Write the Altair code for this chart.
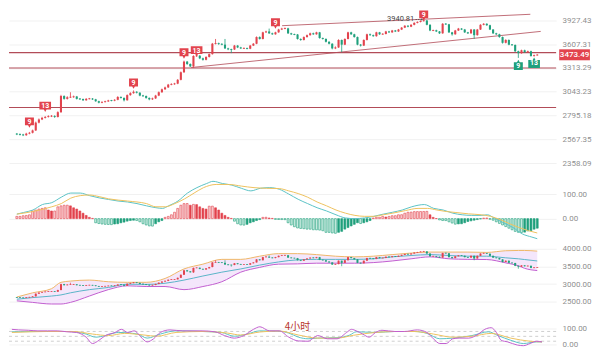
import altair as alt
import pandas as pd
import numpy as np

# ---------------- data ----------------
closes = [2614, 2611, 2605, 2620, 2628, 2650, 2725, 2756, 2772, 2781,
          2788, 2790, 2781, 2829, 2997, 2967, 2984, 2986, 2992, 2967,
          2965, 2952, 2967, 2969, 2962, 2942, 2927, 2934, 2940, 2950,
          2948, 2957, 2987, 2977, 2952, 3007, 3028, 3043, 3033, 3002,
          2997, 2977, 2962, 2972, 3002, 3038, 3070, 3091, 3122, 3128,
          3133, 3176, 3263, 3390, 3361, 3333, 3459, 3462, 3430, 3412,
          3447, 3482, 3614, 3618, 3612, 3602, 3554, 3542, 3540, 3590,
          3566, 3554, 3556, 3550, 3590, 3614, 3701, 3676, 3764, 3776,
          3751, 3738, 3764, 3802, 3815, 3818, 3751, 3738, 3735, 3676,
          3663, 3701, 3726, 3751, 3738, 3764, 3688, 3676, 3639, 3614,
          3554, 3566, 3663, 3602, 3676, 3764, 3738, 3701, 3602, 3590,
          3663, 3738, 3726, 3713, 3764, 3738, 3742, 3776, 3764, 3789,
          3776, 3802, 3828, 3854, 3841, 3867, 3894, 3907, 3921, 3927,
          3867, 3789, 3792, 3776, 3751, 3881, 3874, 3764, 3738, 3789,
          3815, 3802, 3764, 3751, 3802, 3726, 3802, 3867, 3881, 3861,
          3802, 3751, 3738, 3701, 3626, 3663, 3602, 3598, 3518, 3494,
          3530, 3506, 3518, 3459, 3468, 3473.49]
highs = [2626, 2622, 2618, 2628, 2636, 2658, 2735, 2766, 2782, 2790,
         2798, 2800, 2798, 2838, 3010, 3005, 2995, 3038, 3002, 2998,
         2975, 2970, 2975, 2977, 2976, 2967, 2947, 2941, 2947, 2957,
         2956, 2964, 2996, 2994, 2982, 3015, 3038, 3058, 3050, 3038,
         3010, 3003, 2982, 2980, 3010, 3046, 3078, 3100, 3130, 3137,
         3142, 3185, 3272, 3402, 3398, 3368, 3468, 3472, 3470, 3438,
         3455, 3490, 3624, 3676, 3628, 3620, 3676, 3562, 3550, 3598,
         3596, 3574, 3565, 3564, 3598, 3622, 3710, 3710, 3772, 3786,
         3815, 3760, 3772, 3812, 3826, 3830, 3826, 3758, 3746, 3742,
         3684, 3710, 3735, 3760, 3760, 3772, 3770, 3695, 3684, 3646,
         3620, 3580, 3672, 3668, 3684, 3772, 3772, 3745, 3708, 3610,
         3670, 3746, 3748, 3734, 3772, 3770, 3752, 3784, 3784, 3797,
         3796, 3810, 3836, 3862, 3862, 3875, 3902, 3915, 3930, 3940.81,
         3934, 3874, 3800, 3800, 3782, 3890, 3890, 3880, 3770, 3797,
         3824, 3822, 3810, 3770, 3810, 3808, 3810, 3875, 3890, 3888,
         3868, 3808, 3758, 3745, 3708, 3672, 3670, 3610, 3604, 3525,
         3538, 3538, 3526, 3525, 3476, 3482]
lows = [2606, 2603, 2597, 2600, 2614, 2622, 2645, 2718, 2750, 2766,
        2775, 2780, 2772, 2776, 2822, 2958, 2960, 2976, 2978, 2960,
        2956, 2945, 2947, 2961, 2955, 2936, 2920, 2921, 2929, 2935,
        2941, 2942, 2952, 2970, 2940, 2948, 3000, 3022, 3025, 2995,
        2988, 2968, 2952, 2955, 2966, 2996, 3032, 3064, 3085, 3115,
        3120, 3127, 3170, 3256, 3350, 3325, 3313, 3448, 3420, 3402,
        3405, 3440, 3476, 3605, 3600, 3594, 3546, 3532, 3494, 3534,
        3558, 3546, 3546, 3542, 3544, 3584, 3608, 3668, 3670, 3756,
        3742, 3730, 3732, 3758, 3795, 3806, 3742, 3728, 3726, 3668,
        3652, 3656, 3694, 3720, 3730, 3732, 3680, 3668, 3630, 3605,
        3542, 3545, 3560, 3506, 3596, 3670, 3730, 3694, 3594, 3578,
        3584, 3656, 3718, 3705, 3706, 3730, 3730, 3736, 3756, 3757,
        3768, 3770, 3795, 3822, 3833, 3835, 3860, 3887, 3900, 3912,
        3860, 3780, 3780, 3768, 3742, 3745, 3866, 3755, 3720, 3732,
        3782, 3795, 3756, 3742, 3745, 3676, 3720, 3796, 3860, 3852,
        3795, 3742, 3728, 3692, 3615, 3618, 3594, 3588, 3508, 3435,
        3486, 3498, 3498, 3450, 3450, 3462]
first_open = 2618

price_ticks = [2358.09, 2567.35, 2795.18, 3043.23, 3313.29, 3607.31, 3927.43]
support_levels = [3501, 3313.29, 2877]
trend_upper_i = [84.1, 162.8]
trend_upper_p = [3854.7, 4015.2]
trend_lower_i = [55.3, 166.1]
trend_lower_p = [3319, 3776.8]
last_price = 3473.49
high_value = 3940.81
high_label_i = 126.0
high_arrow_i = [126.4, 128.5]

mark_i = [4, 9, 37, 53, 57, 82, 129, 159, 164]
mark_label = ["9", "13", "9", "9", "13", "9", "9", "9", "13"]
mark_price = [2732, 2891, 3140, 3498, 3525, 3894, 4006, 3342, 3368]
mark_side = ["top", "top", "top", "top", "top", "top", "top", "bottom", "bottom"]

macd_hist = [9.1, 9.1, 11.7, 13, 15.6, 31.1, 35, 38.9, 41.5, 44.1,
             35, 31.1, 31.1, 48, 51.9, 54.5, 54.6, 51.9, 44.1, 38.9,
             31.1, 22, 13, 5.2, 1, -16.9, -20, -22, -23.3, -24,
             -24.5, -22, -20.8, -17, -14.3, -10.4, -7.8, -6.5, -7.8, -13,
             -20.8, -25.9, -29.8, -30.5, -20.8, -13, -7.8, 5.2, 9.1, 15.6,
             25.9, 41.5, 54.5, 61, 61.5, 54.5, 58, 57, 48, 41.5,
             38.9, 50.6, 50.8, 44.1, 35, 22, 13, 5.2, 1, -10.4,
             -20.8, -25.9, -26.5, -23.3, -16.9, -13, -7.8, -3.9, 5.2, 5.5,
             2.6, 1, -3, -3.5, -3.9, -4.2, -16.9, -26, -33, -38,
             -40, -41, -42.8, -43, -45.4, -45.6, -46.7, -49.3, -55.8, -56,
             -58.4, -59.7, -55.8, -51.9, -42.8, -36.3, -29.8, -23.3, -16.9, -20,
             -16.9, -13, -7.8, 2.6, 5.2, 5.5, 9.1, 6.5, 9.1, 11.7,
             12, 15.6, 16, 22, 25.9, 26.5, 28.5, 28.7, 28.9, 29,
             29.5, 15.6, 5.2, 0.5, -5.2, -7.8, -8, -13, -18, -22.5,
             -21.5, -20.8, -16.9, -11.7, -9.1, -6.5, -3.9, -1.3, 2, 2.6,
             -2.6, -6.5, -13, -19.5, -25.9, -32.4, -38.9, -45.4, -51.9, -55.8,
             -56.5, -55, -50, -49, -43, -39]
dif_i = [0, 2.1, 5.1, 8.1, 11.1, 14.1, 17.1, 20.1, 23.1, 26.1,
         29.1, 32.1, 35.1, 38.1, 41.1, 44.1, 46.2, 48.1, 51.1, 54.1,
         57.1, 60.2, 62.2, 65.2, 68.2, 71.2, 74.2, 77.2, 80.2, 83.2,
         86.2, 89.2, 92.2, 95.2, 98.2, 101.2, 104.2, 107.2, 110.2, 113.2,
         116.2, 119.2, 122.2, 125.2, 129.2, 132.2, 135.2, 138.2, 141.2, 144.2,
         147.2, 149.2, 151.3, 154.3, 157.3, 160.3, 163.3, 165]
dif_v = [18.3, 24.9, 35, 57.2, 65, 87.2, 103.9, 103.9, 93.4, 84.4,
         77.8, 71.6, 67.7, 61.1, 52.1, 44.4, 41.6, 52.1, 71.6, 103.9,
         126, 142.8, 151.7, 142.8, 136.2, 123.3, 112.8, 123.3, 126, 119.5,
         100, 78.6, 61.1, 44.4, 31.1, 15.6, 2.7, 0, 2.7, 9.3,
         18.3, 26.1, 35, 48.2, 57.2, 41.6, 35, 22.2, 15.6, 13.2,
         13.2, 15.6, 2.7, -16.7, -36.2, -62.3, -75.1, -81.7]
dea_i = [0, 5.1, 11.1, 14.1, 17.1, 20.1, 23.1, 26.1, 29.1, 35.1,
         41.1, 44.1, 47.1, 50.1, 53.2, 56.2, 59.2, 63.2, 67.2, 71.2,
         75.2, 79.2, 83.2, 86.2, 89.2, 92.2, 95.2, 98.2, 101.2, 104.2,
         107.2, 110.2, 113.2, 116.2, 119.2, 123.2, 127.2, 130.2, 133.2, 136.2,
         139.2, 143.2, 147.2, 150.2, 153.2, 156.2, 159.2, 162.2, 165]
dea_v = [18.3, 28.8, 48.2, 61.1, 83.3, 93.4, 96.1, 89.5, 80.5, 71.6,
         61.1, 48.2, 48.2, 61.1, 80.5, 103.9, 126, 138.9, 138.9, 132.3,
         126, 123.3, 122.2, 112.8, 101.9, 87.2, 67.7, 52.1, 35, 22.2,
         13.2, 9.3, 9.3, 15.6, 22.2, 32.7, 41.6, 41.6, 35, 28.8,
         24.9, 19.5, 15.6, 9.3, -3.9, -20.6, -36.2, -49, -58.4]

boll_i = [0, 5, 11, 14, 17, 23, 29, 35, 41, 47, 53, 59, 65, 71, 77, 83,
          89, 95, 101, 107, 113, 119, 125, 131, 137, 143, 149, 155, 159, 161, 165]
boll_upper = [2631, 2750, 2867, 3049, 3084, 3112, 3065, 3049, 3049, 3158,
              3429, 3565, 3701, 3701, 3791, 3864, 3864, 3837, 3791, 3772,
              3791, 3837, 3880, 3908, 3908, 3908, 3899, 3946, 3954, 3954, 3935]
boll_mid = [2568, 2614, 2658, 2690, 2750, 2840, 2902, 2995, 2989, 3022,
            3112, 3228, 3337, 3429, 3538, 3628, 3688, 3701, 3701, 3701,
            3717, 3772, 3810, 3837, 3810, 3791, 3791, 3745, 3717, 3696, 3655]
boll_lower = [2522, 2478, 2432, 2432, 2478, 2658, 2840, 2949, 2929, 2929,
              2840, 2929, 3065, 3337, 3473, 3565, 3573, 3592, 3592, 3592,
              3609, 3655, 3717, 3772, 3717, 3701, 3696, 3601, 3519, 3446, 3383]

k_i = [0, 8.1, 17.1, 23.1, 26.1, 29.1, 33.1, 39.1, 42.1, 46.2,
       51.1, 59.2, 65.2, 69.2, 73.2, 77.2, 83.2, 86.2, 89.2, 92.2,
       95.2, 101.2, 105.2, 107.2, 113.2, 119.2, 125.2, 129.2, 133.2, 137.2,
       143.2, 148.3, 151.3, 155.3, 159.2, 163.3, 165]
k_v = [77.9, 79.7, 79.7, 64, 44.8, 54.7, 73.8, 64, 39, 64,
       83.7, 79.7, 73.8, 50.6, 64, 83.7, 81.4, 69.8, 44.8, 34.9,
       39, 41.9, 58.1, 77.9, 73.8, 79.7, 79.7, 68, 34.9, 39,
       54.7, 77.9, 54.7, 25.6, 5.8, 15.7, 15.7]
d_i = [0, 11.1, 19.1, 25.1, 30.1, 35.1, 41.1, 45.1, 51.1, 59.2,
       67.2, 71.2, 77.2, 83.2, 89.2, 95.2, 101.2, 106.3, 113.2, 119.2,
       125.2, 131.2, 137.2, 143.2, 149.2, 155.3, 161.3, 165]
d_v = [73.8, 79.7, 79.7, 64, 54.7, 68, 58.1, 50.6, 73.8, 79.7,
       69.8, 58.1, 76.7, 82.6, 58.1, 39, 39, 56.4, 73.8, 79.7,
       79.7, 64, 44.8, 50.6, 68, 39, 19.8, 15.7]
j_i = [0, 2.1, 5.1, 8.1, 11.1, 14.1, 17.1, 20.1, 23.1, 25.1,
       27.1, 29.1, 32.1, 34.1, 36.1, 38.1, 40.2, 42.1, 44.1, 46.2,
       49.2, 53.2, 59.2, 63.2, 66.2, 69.2, 72.2, 75.2, 77.2, 80.2,
       83.2, 86.2, 89.2, 92.2, 94.2, 95.2, 98.2, 101.2, 104.2, 105.7,
       107.2, 109.2, 111.2, 113.2, 115.2, 119.2, 122.2, 126.2, 129.2, 131.2,
       133.2, 135.2, 137.2, 139.2, 142.2, 145.2, 147.2, 149.2, 150.8, 152.3,
       154.3, 157.3, 159.2, 161.3, 163.3, 165]
j_v = [93, 89.5, 87.2, 83.7, 83.7, 83.7, 77.9, 73.8, 44.8, 5.8,
       25.6, 54.7, 73.8, 93, 73.8, 83.7, 44.8, 15.7, 34.9, 73.8,
       89.5, 83.7, 83.7, 77.9, 54.7, 39, 54.7, 93, 108.7, 83.7,
       83.7, 44.8, 21.5, 19.8, 44.8, 54.7, 34.9, 34.9, 73.8, 93,
       83.7, 64, 44.8, 73.8, 87.2, 79.7, 79.7, 89.5, 73.8, 34.9,
       5.8, 5.8, 34.9, 39, 39, 64, 93, 102.9, 73.8, 25.6,
       15.7, -3.5, -7.6, 5.8, 19.8, 15.7]
kdj_levels = [20, 50, 80]
period_label = "4小时"
period_i = 88.9
period_v = 108

# ---------------- styling ----------------
RED = "#e2434d"
GREEN = "#1fa07c"
LINE_RED = "#b24c58"
TEAL = "#5cc3c6"
YELLOW = "#eec25f"
PURPLE = "#c25fd0"
BOLL_UP = "#efb768"
BOLL_MID = "#5ab5c8"
BAND_FILL = "#f4e6fb"
W = 549
HEIGHTS = [164, 72, 70, 37]

xsc = alt.Scale(domain=[-0.9, 169.4], nice=False, zero=False)


def X(field="i"):
    return alt.X(f"{field}:Q", scale=xsc, axis=None)


def mk_axis(values):
    return alt.Axis(orient="right", values=values, format=".2f", title=None,
                    domain=False, ticks=False, labelColor="#8f8f8f",
                    labelFontSize=8, labelPadding=6, labelFont="Roboto",
                    grid=True, gridColor="#f1f1f1", gridWidth=1,
                    minExtent=34, maxExtent=34)


# ---------------- frames ----------------
opens = [first_open] + closes[:-1]
cd = pd.DataFrame({"i": list(range(len(closes))), "open": opens, "close": closes,
                   "high": highs, "low": lows})
cd["dir"] = np.where(cd["close"] >= cd["open"], "up", "down")
top = np.maximum(cd["open"], cd["close"])
bot = np.minimum(cd["open"], cd["close"])
mid = (top + bot) / 2
half_p = np.maximum((top - bot) / 2, mid * 0.0015)
cd["btop"] = mid + half_p
cd["bbot"] = mid - half_p
half_b = np.maximum((top - bot) / 2, 10)
cd["btop_b"] = mid + half_b
cd["bbot_b"] = mid - half_b

dir_color = alt.Color("dir:N", scale=alt.Scale(domain=["up", "down"], range=[RED, GREEN]),
                      legend=None)

# ---------------- price panel ----------------
ysc_p = alt.Scale(type="log", domain=[2283.7, 4097.96], nice=False)
ax_p = mk_axis(price_ticks)


def YP(field):
    return alt.Y(f"{field}:Q", scale=ysc_p, axis=ax_p)


sup_df = pd.DataFrame({"p": support_levels})
sup = alt.Chart(sup_df).mark_rule(color=LINE_RED, strokeWidth=1.1).encode(y=YP("p"))

tr_df = pd.DataFrame({"i": trend_upper_i + trend_lower_i,
                      "p": trend_upper_p + trend_lower_p,
                      "line": ["u", "u", "l", "l"]})
trend = alt.Chart(tr_df).mark_line(color=LINE_RED, strokeWidth=0.9, opacity=0.9).encode(
    x=X(), y=YP("p"), detail="line:N")

wick = alt.Chart(cd).mark_rule(strokeWidth=0.8).encode(
    x=X(), y=YP("high"), y2="low", color=dir_color)
body = alt.Chart(cd).mark_bar(size=2.1).encode(
    x=X(), y=YP("btop"), y2="bbot", color=dir_color)

shape_map = {
    ("top", 1): "M-1,-1H1V0.75H0.3L0,1.3L-0.3,0.75H-1Z",
    ("top", 2): "M-1.3,-1H1.3V0.75H0.3L0,1.3L-0.3,0.75H-1.3Z",
    ("bottom", 1): "M-1,1H1V-0.75H0.3L0,-1.3L-0.3,-0.75H-1Z",
    ("bottom", 2): "M-1.3,1H1.3V-0.75H0.3L0,-1.3L-0.3,-0.75H-1.3Z",
}
mk = pd.DataFrame({"i": mark_i, "p": mark_price, "label": mark_label, "side": mark_side})
mk["shape"] = [shape_map[(s, len(l))] for s, l in zip(mk["side"], mk["label"])]
mk["fillc"] = [RED if s == "top" else GREEN for s in mk["side"]]
mk["ty"] = [-0.6 if s == "top" else 0.6 for s in mk["side"]]
marker = alt.Chart(mk).mark_point(filled=True, opacity=1, size=81, strokeWidth=0).encode(
    x=X(), y=YP("p"), shape=alt.Shape("shape:N", scale=None),
    fill=alt.Fill("fillc:N", scale=None))
marker_txt = alt.Chart(mk).mark_text(color="white", fontSize=7, fontWeight="bold",
                                     baseline="middle", font="Roboto").encode(
    x=X(), y=YP("p"), text="label:N")

hi_df = pd.DataFrame({"i": [high_label_i], "p": [high_value * 1.0025],
                      "t": [f"{high_value:.2f}"]})
hi_txt = alt.Chart(hi_df).mark_text(align="right", baseline="middle", fontSize=7.5,
                                    color="#444444", font="Roboto").encode(
    x=X(), y=YP("p"), text="t:N")
arr_df = pd.DataFrame({"i": high_arrow_i, "p": [high_value, high_value]})
arr = alt.Chart(arr_df).mark_line(color="#555555", strokeWidth=0.8,
                                  strokeDash=[1.5, 1]).encode(x=X(), y=YP("p"))
arr_head = alt.Chart(arr_df.tail(1)).mark_point(shape="triangle-right", filled=True,
                                                size=7, color="#555555").encode(
    x=X(), y=YP("p"))

lp_df = pd.DataFrame({"p": [last_price], "t": [f"{last_price:.2f}"]})
lp_box = alt.Chart(lp_df).mark_point(shape="M-2.8,-1H2.8V1H-2.8Z", filled=True,
                                     opacity=1, size=121, color=RED).encode(
    x=alt.value(W + 18.5), y=YP("p"))
lp_txt = alt.Chart(lp_df).mark_text(color="white", fontSize=8, fontWeight=500,
                                    baseline="middle", font="Roboto").encode(
    x=alt.value(W + 18.5), y=YP("p"), text="t:N")

price_panel = alt.layer(sup, trend, wick, body, marker, marker_txt, hi_txt, arr,
                        arr_head, lp_box, lp_txt).properties(width=W, height=HEIGHTS[0])

# ---------------- MACD panel ----------------
ysc_m = alt.Scale(domain=[-102.3, 189.5], nice=False, zero=False)
ax_m = mk_axis([0, 100])


def YM(field):
    return alt.Y(f"{field}:Q", scale=ysc_m, axis=ax_m)


h = np.array(macd_hist, dtype=float)
prev = np.concatenate([[0.0], h[:-1]])
hollow = (np.sign(h) != np.sign(prev)) | (np.abs(h) >= np.abs(prev))
sgn = np.where(h >= 0, "pos", "neg")
cat = [f"{s}_{'hollow' if ho else 'solid'}" for s, ho in zip(sgn, hollow)]
hd = pd.DataFrame({"i": list(range(len(h))), "h": h, "zero": 0.0, "sgn": sgn, "cat": cat})
cats = ["pos_hollow", "pos_solid", "neg_hollow", "neg_solid"]
fills = ["#f9d6d9", RED, "#d3f0e6", GREEN]
hist = alt.Chart(hd).mark_bar(size=1.9, strokeWidth=0.6).encode(
    x=X(), y=YM("h"), y2="zero",
    fill=alt.Fill("cat:N", scale=alt.Scale(domain=cats, range=fills), legend=None),
    stroke=alt.Stroke("sgn:N", scale=alt.Scale(domain=["pos", "neg"], range=[RED, GREEN]),
                      legend=None))
dif = alt.Chart(pd.DataFrame({"i": dif_i, "v": dif_v})).mark_line(
    color=TEAL, strokeWidth=1, interpolate="monotone").encode(x=X(), y=YM("v"))
dea = alt.Chart(pd.DataFrame({"i": dea_i, "v": dea_v})).mark_line(
    color=YELLOW, strokeWidth=1, interpolate="monotone").encode(x=X(), y=YM("v"))
macd_panel = alt.layer(hist, dif, dea).properties(width=W, height=HEIGHTS[1])

# ---------------- BOLL panel ----------------
ysc_b = alt.Scale(domain=[2161, 4144], nice=False, zero=False)
ax_b = mk_axis([2500, 3000, 3500, 4000])


def YB(field):
    return alt.Y(f"{field}:Q", scale=ysc_b, axis=ax_b)


bd = pd.DataFrame({"i": boll_i, "up": boll_upper, "mid": boll_mid, "lo": boll_lower})
band = alt.Chart(bd).mark_area(color=BAND_FILL, opacity=1, interpolate="monotone").encode(
    x=X(), y=YB("up"), y2="lo")
b_up = alt.Chart(bd).mark_line(color=BOLL_UP, strokeWidth=1, interpolate="monotone").encode(
    x=X(), y=YB("up"))
b_mid = alt.Chart(bd).mark_line(color=BOLL_MID, strokeWidth=1, interpolate="monotone").encode(
    x=X(), y=YB("mid"))
b_lo = alt.Chart(bd).mark_line(color=PURPLE, strokeWidth=1, interpolate="monotone").encode(
    x=X(), y=YB("lo"))
b_wick = alt.Chart(cd).mark_rule(strokeWidth=0.7).encode(
    x=X(), y=YB("high"), y2="low", color=dir_color)
b_body = alt.Chart(cd).mark_bar(size=2).encode(
    x=X(), y=YB("btop_b"), y2="bbot_b", color=dir_color)
boll_panel = alt.layer(band, b_up, b_mid, b_lo, b_wick, b_body).properties(
    width=W, height=HEIGHTS[2])

# ---------------- KDJ panel ----------------
ysc_k = alt.Scale(domain=[-36.6, 190.1], nice=False, zero=False)
ax_k = mk_axis([0, 100])


def YK(field):
    return alt.Y(f"{field}:Q", scale=ysc_k, axis=ax_k)


lv = alt.Chart(pd.DataFrame({"lv": kdj_levels})).mark_rule(
    color="#cfcfcf", strokeDash=[3, 3], strokeWidth=1).encode(y=YK("lv"))
k_line = alt.Chart(pd.DataFrame({"i": k_i, "v": k_v})).mark_line(
    color=TEAL, strokeWidth=1, interpolate="monotone").encode(x=X(), y=YK("v"))
d_line = alt.Chart(pd.DataFrame({"i": d_i, "v": d_v})).mark_line(
    color=YELLOW, strokeWidth=1, interpolate="monotone").encode(x=X(), y=YK("v"))
j_line = alt.Chart(pd.DataFrame({"i": j_i, "v": j_v})).mark_line(
    color=PURPLE, strokeWidth=1, interpolate="monotone").encode(x=X(), y=YK("v"))
per_txt = alt.Chart(pd.DataFrame({"i": [period_i], "v": [period_v], "t": [period_label]})).mark_text(
    color="#b8342c", fontSize=10, baseline="middle", font="Noto Sans CJK SC").encode(
    x=X(), y=YK("v"), text="t:N")
kdj_panel = alt.layer(lv, k_line, d_line, j_line, per_txt).properties(
    width=W, height=HEIGHTS[3])

chart = alt.vconcat(price_panel, macd_panel, boll_panel, kdj_panel,
                    spacing=0, bounds="flush").properties(
    padding=0, background="white"
).configure(font="Roboto").configure_view(stroke=None)

chart.save("out.html", embed_options={"renderer": "svg", "actions": False})
